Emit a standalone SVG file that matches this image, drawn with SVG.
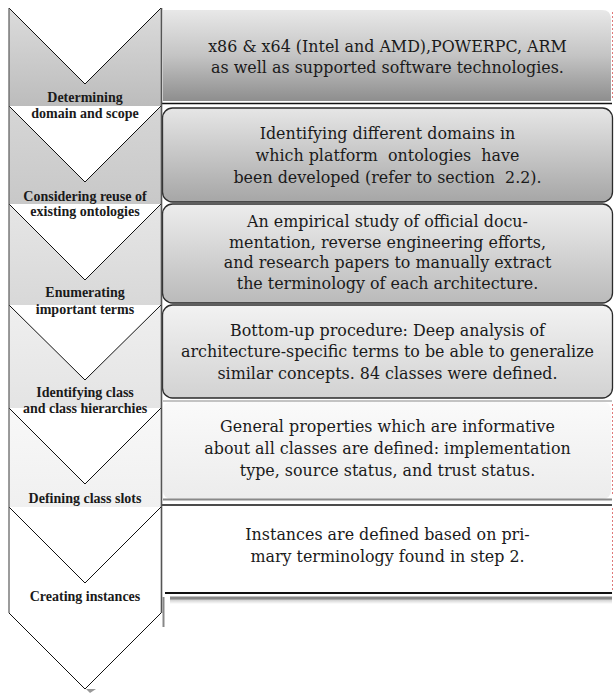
<svg xmlns="http://www.w3.org/2000/svg" width="614" height="694" viewBox="0 0 614 694">
<defs>
<linearGradient id="c1" x1="0" y1="0" x2="0" y2="1"><stop offset="0" stop-color="#dcdcdc"/><stop offset="1" stop-color="#bcbcbc"/></linearGradient>
<linearGradient id="c2" x1="0" y1="0" x2="0" y2="1"><stop offset="0" stop-color="#d6d6d6"/><stop offset="1" stop-color="#c8c8c8"/></linearGradient>
<linearGradient id="c3" x1="0" y1="0" x2="0" y2="1"><stop offset="0" stop-color="#e6e6e6"/><stop offset="1" stop-color="#d8d8d8"/></linearGradient>
<linearGradient id="c4" x1="0" y1="0" x2="0" y2="1"><stop offset="0" stop-color="#efefef"/><stop offset="1" stop-color="#e4e4e4"/></linearGradient>
<linearGradient id="c5" x1="0" y1="0" x2="0" y2="1"><stop offset="0" stop-color="#f8f8f8"/><stop offset="1" stop-color="#f0f0f0"/></linearGradient>
<linearGradient id="b1" x1="0" y1="0" x2="0" y2="1"><stop offset="0" stop-color="#e8e8e8"/><stop offset="0.5" stop-color="#c4c4c4"/><stop offset="1" stop-color="#8e8e8e"/></linearGradient>
<linearGradient id="b2" x1="0" y1="0" x2="0" y2="1"><stop offset="0" stop-color="#e6e6e6"/><stop offset="1" stop-color="#a6a6a6"/></linearGradient>
<linearGradient id="b3" x1="0" y1="0" x2="0" y2="1"><stop offset="0" stop-color="#ededed"/><stop offset="1" stop-color="#bababa"/></linearGradient>
<linearGradient id="b4" x1="0" y1="0" x2="0" y2="1"><stop offset="0" stop-color="#f2f2f2"/><stop offset="1" stop-color="#d2d2d2"/></linearGradient>
<linearGradient id="b5" x1="0" y1="0" x2="0" y2="1"><stop offset="0" stop-color="#fafafa"/><stop offset="1" stop-color="#ececec"/></linearGradient>
<linearGradient id="sh" x1="0" y1="0" x2="0" y2="1"><stop offset="0" stop-color="#bbbbbb"/><stop offset="1" stop-color="#ffffff"/></linearGradient>
</defs>
<style>
.vl{fill:none;stroke:#111;stroke-width:1}
.side{fill:none;stroke:#5a5a5a;stroke-width:1.2}
.lab{font-family:"Liberation Serif","Times New Roman",serif;font-weight:bold;font-size:14px;fill:#1a1a1a;text-anchor:middle}
.txt{font-family:"DejaVu Serif","Liberation Serif",serif;font-size:15.9px;fill:#1a1a1a;text-anchor:middle;white-space:pre}
.bx{stroke:#2a2a2a;stroke-width:1.3}
.red{stroke:#e07a7a;stroke-width:1;stroke-dasharray:2,2;fill:none}
</style>

<g id="chevron1">
<path d="M9,8 L85,84 L161,8 L161,106 L9,106 Z" fill="url(#c1)"/>
<polyline class="vl" points="9,8 85,84 161,8"/>
<text class="lab" x="85" y="102">Determining</text>
<text class="lab" x="85" y="118">domain and scope</text>
</g>
<g id="chevron2">
<path d="M9,106 L85,182 L161,106 L161,204 L9,204 Z" fill="url(#c2)"/>
<polyline class="vl" points="9,106 85,182 161,106"/>
<text class="lab" x="85" y="201">Considering reuse of</text>
<text class="lab" x="85" y="216">existing ontologies</text>
</g>
<g id="chevron3">
<path d="M9,204 L85,280 L161,204 L161,305 L9,305 Z" fill="url(#c3)"/>
<polyline class="vl" points="9,204 85,280 161,204"/>
<text class="lab" x="85" y="297">Enumerating</text>
<text class="lab" x="85" y="314">important terms</text>
</g>
<g id="chevron4">
<path d="M9,305 L85,380 L161,305 L161,408 L9,408 Z" fill="url(#c4)"/>
<polyline class="vl" points="9,305 85,380 161,305"/>
<text class="lab" x="85" y="397">Identifying class</text>
<text class="lab" x="85" y="413">and class hierarchies</text>
</g>
<g id="chevron5">
<path d="M9,408 L85,484 L161,408 L161,507 L9,507 Z" fill="url(#c5)"/>
<polyline class="vl" points="9,408 85,484 161,408"/>
<text class="lab" x="85" y="503">Defining class slots</text>
</g>
<g id="chevron6">
<path d="M9,507 L85,583 L161,507 L161,613 L85,689 L9,613 Z" fill="#ffffff"/>
<polyline class="vl" points="9,507 85,583 161,507"/>
<polyline class="vl" points="9,613 85,689 161,613"/>
<text class="lab" x="85" y="601">Creating instances</text>
</g>

<g id="box1">
<path d="M163,10 L602,10 Q611,10 611,19 L611,101 L163,101 Z" fill="url(#b1)"/>
<line x1="161" y1="103.5" x2="612" y2="103.5" stroke="#111" stroke-width="1.3"/>
<line class="red" x1="612.5" y1="12" x2="612.5" y2="100"/>
<text class="txt" x="387.5" y="52">x86 &amp; x64 (Intel and AMD),POWERPC, ARM</text>
<text class="txt" x="387.5" y="73">as well as supported software technologies.</text>
</g>
<g id="box2">
<rect class="bx" x="162.5" y="108" width="450" height="94" rx="10" fill="url(#b2)"/>
<text class="txt" x="387.5" y="139">Identifying different domains in</text>
<text class="txt" x="387.5" y="161" xml:space="preserve">which platform  ontologies  have</text>
<text class="txt" x="387.5" y="183" xml:space="preserve">been developed (refer to section  2.2).</text>
</g>
<g id="box3">
<rect class="bx" x="162.5" y="204" width="450" height="99" rx="10" fill="url(#b3)"/>
<text class="txt" x="387.5" y="227">An empirical study of official docu-</text>
<text class="txt" x="387.5" y="248">mentation, reverse engineering efforts,</text>
<text class="txt" x="387.5" y="268">and research papers to manually extract</text>
<text class="txt" x="387.5" y="289">the terminology of each architecture.</text>
</g>
<g id="box4">
<rect class="bx" x="162.5" y="305" width="450" height="93" rx="10" fill="url(#b4)"/>
<text class="txt" x="387.5" y="336">Bottom-up procedure: Deep analysis of</text>
<text class="txt" x="387.5" y="357">architecture-specific terms to be able to generalize</text>
<text class="txt" x="387.5" y="379">similar concepts. 84 classes were defined.</text>
<line x1="163" y1="401" x2="612" y2="401" stroke="#888" stroke-width="1.2"/>
</g>
<g id="box5">
<rect x="163" y="402" width="448" height="97" rx="8" fill="url(#b5)"/>
<line x1="163" y1="499.5" x2="612" y2="499.5" stroke="#888" stroke-width="2"/>
<line class="red" x1="612.5" y1="404" x2="612.5" y2="496"/>
<text class="txt" x="387.5" y="432">General properties which are informative</text>
<text class="txt" x="387.5" y="454">about all classes are defined: implementation</text>
<text class="txt" x="387.5" y="476">type, source status, and trust status.</text>
</g>
<g id="box6">
<rect x="163" y="505" width="449" height="88" fill="#ffffff"/>
<line x1="162" y1="505" x2="612" y2="505" stroke="#111" stroke-width="1.4"/>
<line x1="165" y1="593" x2="612" y2="593" stroke="#111" stroke-width="2"/>
<rect x="170" y="598" width="442" height="6" fill="url(#sh)"/>
<line x1="170" y1="598" x2="612" y2="598" stroke="#888" stroke-width="3"/>
<line class="red" x1="612.5" y1="508" x2="612.5" y2="590"/>
<text class="txt" x="387.5" y="540">Instances are defined based on pri-</text>
<text class="txt" x="387.5" y="562">mary terminology found in step 2.</text>
</g>

<g id="connectors">
<line class="side" x1="9" y1="8" x2="9" y2="613"/>
<line x1="161.5" y1="8" x2="161.5" y2="613" stroke="#555" stroke-width="1.6"/>
<line x1="163.5" y1="597" x2="163.5" y2="627" stroke="#888" stroke-width="2"/>
<path d="M86,689 L96,689 L90,693 Z" fill="#999"/>
</g>
</svg>
